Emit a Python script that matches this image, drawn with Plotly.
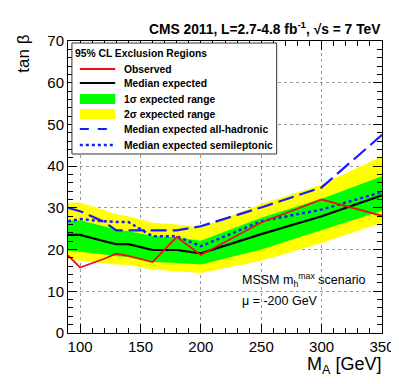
import plotly.graph_objects as go

# ---------------- data ----------------
mass = [90, 100, 120, 130, 140, 160, 180, 200, 250, 300, 350]
observed = [18.6, 15.7, 17.8, 19.0, 18.5, 17.0, 23.0, 18.7, 26.5, 32.0, 28.1]
median = [23.5, 23.5, 22.0, 21.3, 21.3, 19.9, 19.9, 19.1, 23.7, 28.0, 33.0]
sig1_lo = [19.7, 19.5, 18.8, 18.4, 18.2, 17.0, 16.8, 16.4, 20.0, 24.6, 29.3]
sig1_hi = [26.9, 27.0, 25.6, 24.7, 24.4, 23.3, 22.9, 22.1, 27.6, 32.2, 37.6]
sig2_lo = [17.7, 17.4, 16.8, 16.4, 16.3, 15.2, 14.8, 14.4, 17.3, 21.6, 26.4]
sig2_hi = [31.2, 31.2, 29.5, 28.4, 28.0, 26.4, 26.0, 25.3, 30.9, 35.6, 42.4]
allhad = [30.0, 29.2, 26.6, 24.6, 24.6, 24.6, 24.6, 25.6, 30.1, 34.9, 47.5]
semilep = [26.8, 27.3, 26.8, 26.6, 26.6, 23.2, 23.2, 20.8, 26.8, 29.6, 33.8]

x_ticks = [100, 150, 200, 250, 300, 350]
y_ticks = [0, 10, 20, 30, 40, 50, 60, 70]

FONT = "Liberation Sans, Arial, Helvetica, sans-serif"
W, H = 399, 384
L, R, T, B = 60, 20, 33, 59
PW, PH = W - L - R, H - T - B


def px(x):
    return (x - L) / PW


def py(y):
    return (H - B - y) / PH


fig = go.Figure()

# 2 sigma band
fig.add_trace(go.Scatter(x=mass, y=sig2_lo, mode="lines", line=dict(width=0),
                         showlegend=False, hoverinfo="skip"))
fig.add_trace(go.Scatter(x=mass, y=sig2_hi, mode="lines", line=dict(width=0),
                         fill="tonexty", fillcolor="#ffff00", showlegend=False))
# 1 sigma band
fig.add_trace(go.Scatter(x=mass, y=sig1_lo, mode="lines", line=dict(width=0),
                         showlegend=False, hoverinfo="skip"))
fig.add_trace(go.Scatter(x=mass, y=sig1_hi, mode="lines", line=dict(width=0),
                         fill="tonexty", fillcolor="#00ff00", showlegend=False))
# lines
fig.add_trace(go.Scatter(x=mass, y=median, mode="lines",
                         line=dict(color="black", width=2.2), showlegend=False))
fig.add_trace(go.Scatter(x=mass, y=semilep, mode="lines",
                         line=dict(color="#1a1aff", width=2.5, dash="dot"), showlegend=False))
fig.add_trace(go.Scatter(x=mass, y=allhad, mode="lines",
                         line=dict(color="#1a1aff", width=2.2, dash="16px,6px"), showlegend=False))
fig.add_trace(go.Scatter(x=mass, y=observed, mode="lines",
                         line=dict(color="#ee1111", width=1.8), showlegend=False))

axis_common = dict(
    showline=True, linecolor="black", linewidth=1, mirror="allticks",
    ticks="inside", ticklen=9, tickcolor="black", tickwidth=1,
    showgrid=True, gridcolor="#999999", griddash="dot", gridwidth=1,
    zeroline=False,
    tickfont=dict(family=FONT, size=15, color="black"),
)

fig.update_xaxes(range=[90, 350], tickvals=x_ticks,
                 minor=dict(dtick=10, tick0=0, ticks="inside", ticklen=5,
                            tickcolor="black", showgrid=False),
                 **axis_common)
fig.update_yaxes(range=[0, 70], tickvals=y_ticks,
                 minor=dict(dtick=2, tick0=0, ticks="inside", ticklen=5,
                            tickcolor="black", showgrid=False),
                 **axis_common)

shapes = []
annotations = []

LEG_SIZE = 10.3

# legend box
shapes.append(dict(type="rect", xref="paper", yref="paper",
                   x0=px(64), x1=px(272), y0=py(146), y1=py(35),
                   fillcolor="white", line=dict(color="#333333", width=1), layer="above"))
annotations.append(dict(xref="paper", yref="paper", x=px(65), y=py(45),
                        xanchor="left", yanchor="middle", showarrow=False,
                        text="<b>95% CL Exclusion Regions</b>",
                        font=dict(family=FONT, size=LEG_SIZE, color="black")))

entries = [
    ("line", "#ee1111", "solid", 2, "Observed", 61),
    ("line", "black", "solid", 2, "Median expected", 75),
    ("box", "#00ff00", None, None, "1σ expected range", 91),
    ("box", "#ffff00", None, None, "2σ expected range", 106),
    ("line", "#1a1aff", "dash", 2, "Median expected all-hadronic", 121),
    ("line", "#1a1aff", "dot", 2.5, "Median expected semileptonic", 137),
]
for kind, col, dash, w, label, yy in entries:
    if kind == "line":
        shapes.append(dict(type="line", xref="paper", yref="paper",
                           x0=px(72), x1=px(108), y0=py(yy), y1=py(yy),
                           line=dict(color=col, width=w, dash=dash), layer="above"))
    else:
        shapes.append(dict(type="rect", xref="paper", yref="paper",
                           x0=px(72), x1=px(108), y0=py(yy + 5), y1=py(yy - 5),
                           fillcolor=col, line=dict(width=0), layer="above"))
    annotations.append(dict(xref="paper", yref="paper", x=px(115), y=py(yy),
                            xanchor="left", yanchor="middle", showarrow=False,
                            text="<b>" + label + "</b>",
                            font=dict(family=FONT, size=LEG_SIZE, color="black")))

# title
annotations.append(dict(xref="paper", yref="paper", x=px(380), y=py(20),
                        xanchor="right", yanchor="middle", showarrow=False,
                        text="<b>CMS 2011, L=2.7-4.8 fb<sup>-1</sup>, √s = 7 TeV</b>",
                        font=dict(family=FONT, size=13.8, color="black")))
# axis titles
annotations.append(dict(xref="paper", yref="paper", x=px(380), y=py(358),
                        xanchor="right", yanchor="middle", showarrow=False,
                        text="M<sub>A</sub> [GeV]",
                        font=dict(family=FONT, size=18, color="black")))
annotations.append(dict(xref="paper", yref="paper", x=px(15), y=py(46),
                        xanchor="center", yanchor="middle", showarrow=False,
                        textangle=-90, text="tan β",
                        font=dict(family=FONT, size=17, color="black")))
# scenario text
annotations.append(dict(xref="paper", yref="paper", x=px(235), y=py(272),
                        xanchor="left", yanchor="middle", showarrow=False,
                        text="MSSM m<sub>h</sub><sup>max</sup> scenario",
                        font=dict(family=FONT, size=12.5, color="black")))
annotations.append(dict(xref="paper", yref="paper", x=px(235), y=py(293),
                        xanchor="left", yanchor="middle", showarrow=False,
                        text="μ = -200 GeV",
                        font=dict(family=FONT, size=12.5, color="black")))

fig.update_layout(
    width=W, height=H,
    margin=dict(l=L, r=R, t=T, b=B),
    paper_bgcolor="white", plot_bgcolor="white",
    showlegend=False,
    shapes=shapes, annotations=annotations,
    font=dict(family=FONT, color="black"),
)

fig.write_html("out.html")
